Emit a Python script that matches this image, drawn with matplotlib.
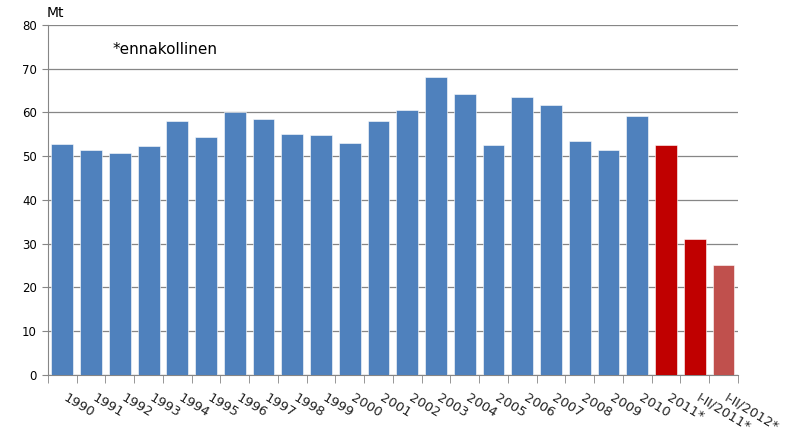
import matplotlib
matplotlib.use('Agg')
import matplotlib.pyplot as plt
import numpy as np

labels = ['1990', '1991', '1992', '1993', '1994', '1995', '1996', '1997', '1998', '1999',
          '2000', '2001', '2002', '2003', '2004', '2005', '2006', '2007', '2008', '2009',
          '2010', '2011*', 'I-II/2011*', 'I-II/2012*']
values = [52.8, 51.4, 50.7, 52.4, 58.0, 54.4, 60.1, 58.4, 55.1, 54.9,
          52.9, 58.0, 60.6, 68.2, 64.3, 52.6, 63.5, 61.8, 53.4, 51.5,
          59.2, 52.6, 31.0, 25.1]
colors = ['#4F81BD'] * 21 + ['#C00000', '#C00000', '#C0504D']

fig = plt.figure(figsize=(7.93, 4.37), dpi=100)
ax = fig.add_axes([0.0605, 0.142, 0.870, 0.801])

x = np.arange(len(labels))
ax.bar(x, values, width=0.76, color=colors, edgecolor='white', linewidth=0.4, zorder=3)

ax.set_xlim(-0.5, len(labels) - 0.5)
ax.set_ylim(0, 80)
ax.set_yticks(range(0, 81, 10))
ax.yaxis.grid(True, color='#868686', linewidth=0.9, zorder=0)

for s in ['top', 'right']:
    ax.spines[s].set_visible(False)
ax.spines['left'].set_color('#868686')
ax.spines['bottom'].set_color('#868686')

ax.tick_params(axis='y', length=4, color='#868686', labelsize=8.5, pad=4)
ax.set_xticks(np.arange(-0.5, len(labels), 1.0), minor=True)
ax.set_xticks(x)
ax.set_xticklabels([])
ax.tick_params(axis='x', which='major', length=0)
ax.tick_params(axis='x', which='minor', length=6, color='#868686')

# rotated category labels, starting at the bar centre
for xi, lab in zip(x, labels):
    ax.annotate(lab, xy=(xi, 0), xycoords='data', xytext=(4, -12),
                textcoords='offset points', rotation=-31, rotation_mode='anchor',
                ha='left', va='top', fontsize=9.5, color='#222222',
                annotation_clip=False)

fig.text(0.059, 0.955, 'Mt', fontsize=10, ha='left', va='bottom')
ax.text(0.093, 0.93, '*ennakollinen', transform=ax.transAxes, fontsize=11, va='center')

fig.savefig('out.png', dpi=100)
